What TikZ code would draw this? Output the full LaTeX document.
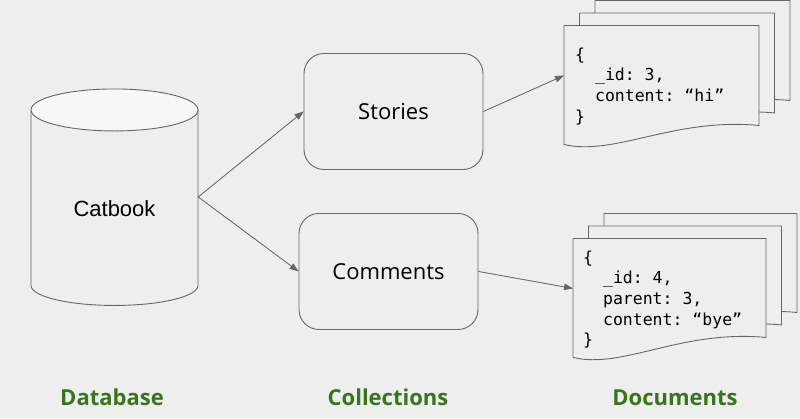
\documentclass[tikz,border=0pt]{standalone}
\usepackage{fontspec}
\setmainfont{Open Sans}
\setmonofont{DejaVu Sans Mono}
\newfontfamily\arialfont{Liberation Sans}
\usepackage{xcolor}
\usetikzlibrary{positioning,arrows.meta}
\definecolor{bgcol}{HTML}{EEEEEE}
\definecolor{topcol}{HTML}{F7F7F7}
\definecolor{linecol}{HTML}{666666}
\definecolor{labelgreen}{HTML}{38761D}

\begin{document}
\begin{tikzpicture}[
	x=1pt, y=-1pt,
	every node/.style={font=\fontsize{22}{26}\selectfont},
	box/.style={draw=linecol, line width=0.9pt, rounded corners=20pt, minimum width=179pt, minimum height=116pt, align=center},
	dbbody/.style={minimum width=167pt, minimum height=217pt, inner sep=0pt},
	dbline/.style={draw=linecol, line width=0.9pt},
	arrow/.style={-{Triangle[length=9pt,width=6.5pt]}, draw=linecol, fill=linecol, line width=0.8pt},
	sheet/.style={draw=linecol, fill=bgcol, line width=0.9pt},
	doctext/.style={anchor=north west, align=left, inner sep=0pt, font=\ttfamily\fontsize{16.5}{20.7}\selectfont},
	caption/.style={font=\bfseries\fontsize{22}{26}\selectfont, text=labelgreen}
	]
	
	\fill[bgcol] (0,0) rectangle (800,418);
	
	% database cylinder
	\draw[dbline, fill=bgcol] (31,109.5) -- (31,285) arc[start angle=180, end angle=0, x radius=83.5, y radius=20] -- (198,109.5);
	\draw[dbline, fill=topcol] (114.5,109.5) ellipse [x radius=83.5, y radius=21];
	\node[dbbody, label={[yshift=-11.5pt, font=\arialfont\fontsize{22}{26}\selectfont]center:Catbook}] (db) at (114.5,196.5) {};
	
	% collections
	\node[box] (stories) at (393.5,111) {Stories};
	\node[box] (comments) at (388.5,271) {Comments};
	
	% documents, stacked sheets
	\foreach \k in {2,1,0}
		\draw[sheet, shift={(15.5*\k,-12.5*\k)}] (564,25) -- (759,25) -- (759,125)
			.. controls (674,117) and (614,156) .. (564,144) -- cycle;
	\foreach \k in {2,1,0}
		\draw[sheet, shift={(15.5*\k,-12.5*\k)}] (573,238) -- (766,238) -- (766,337)
			.. controls (681,329) and (623,369) .. (573,357) -- cycle;
	
	\node[doctext] (storydoc) at (575,47) {\{\\\ \ \_id: 3,\\\ \ content: “hi”\\\}};
	\node[doctext] (commentdoc) at (583,250) {\{\\\ \ \_id: 4,\\\ \ parent: 3,\\\ \ content: “bye”\\\}};
	
	\coordinate (storyin) at (564,75);
	\coordinate (commentin) at (573,288);
	
	\draw[arrow] (db.east) -- (stories.west);
	\draw[arrow] (db.east) -- (comments.west);
	\draw[arrow] (stories.east) -- (storyin);
	\draw[arrow] (comments.east) -- (commentin);
	
	% captions
	\node[caption] (dbcap) at (112,397) {Database};
	\node[caption] (colcap) at (388,397) {Collections};
	\node[caption] (doccap) at (675,397) {Documents};
	
\end{tikzpicture}
\end{document}
